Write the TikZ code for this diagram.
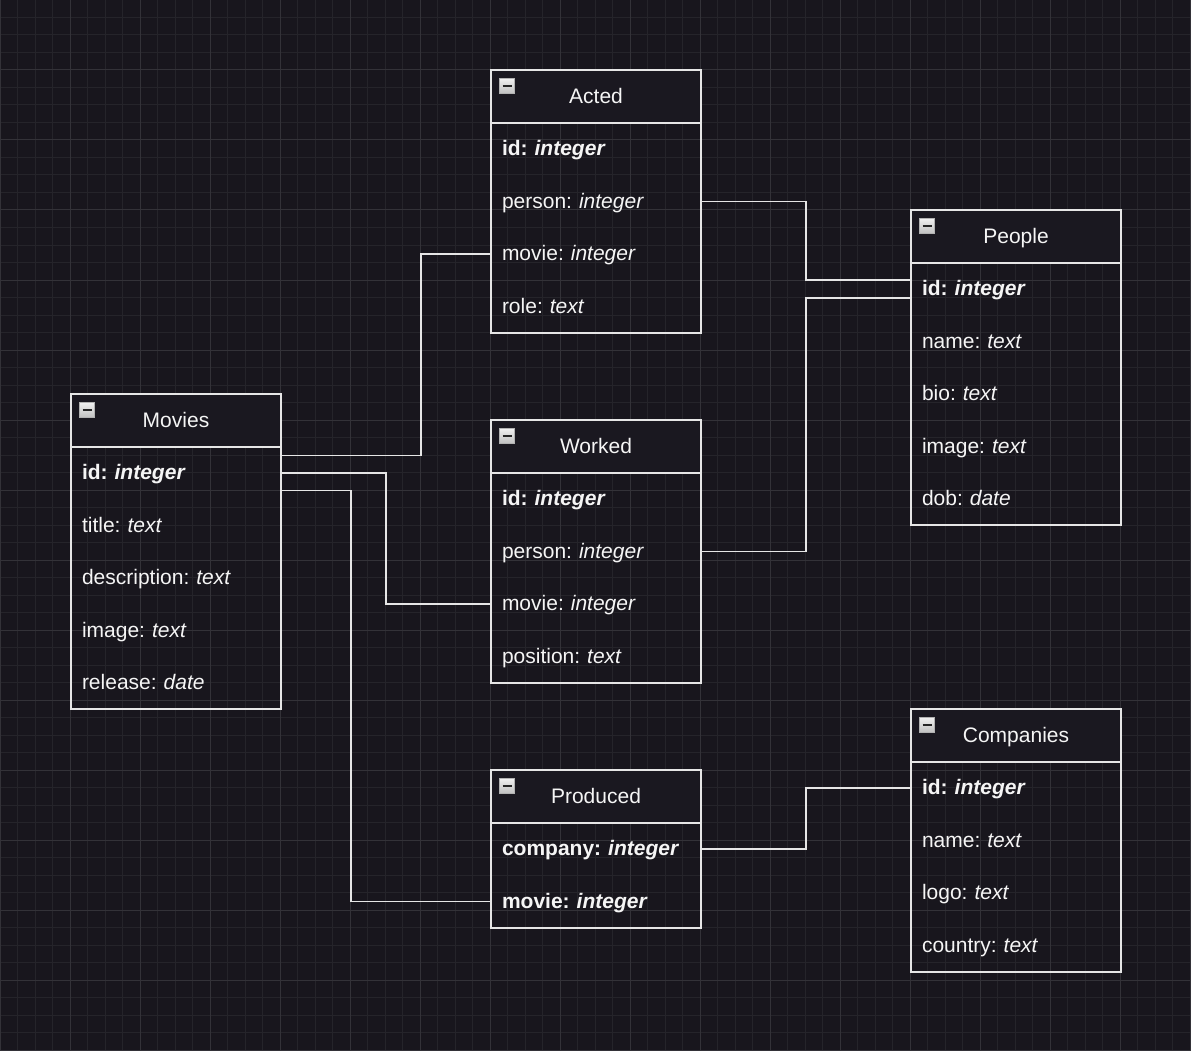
\documentclass[tikz,border=0pt]{standalone}
\usepackage{fontspec}
\setmainfont{Liberation Sans}
\usetikzlibrary{positioning}
\frenchspacing
\definecolor{bgcol}{HTML}{18161D}
\definecolor{gridminor}{HTML}{25242A}
\definecolor{gridmajor}{HTML}{333238}
\definecolor{headfill}{HTML}{1A1820}
\definecolor{linecol}{HTML}{E6E6E6}
\definecolor{txtcol}{HTML}{F5F5F5}
\tikzset{
  tbl/.style={draw=linecol,line width=1.75pt},
  head/.style={tbl,fill=headfill,minimum width=210pt,minimum height=52.5pt,outer sep=0pt,
    text=txtcol,text height=18pt,text depth=4.5pt,font=\fontsize{21}{25}\selectfont},
  field/.style={minimum width=210pt,minimum height=52.5pt,text width=188pt,inner xsep=11pt,
    inner ysep=0pt,align=left,outer sep=0pt,text=txtcol,text height=18pt,text depth=4.5pt,
    font=\fontsize{21}{25}\selectfont},
  toggle/.style={draw=gray!60,line width=0.75pt,minimum size=15pt,inner sep=0pt,
    top color=gray!12,bottom color=gray!50,
    path picture={\draw[line width=2.2pt,black!85]
      ([xshift=3pt]path picture bounding box.west) -- ([xshift=-3pt]path picture bounding box.east);}},
  link/.style={draw=linecol,line width=1.75pt},
}
\begin{document}
\begin{tikzpicture}[x=1pt,y=-1pt]
\useasboundingbox (0,0) rectangle (1191,1051);
\fill[bgcol] (0,0) rectangle (1191,1051);
% grid
\foreach \g in {0,...,68} \draw[gridminor,line width=1pt] (\g*17.5,0) -- (\g*17.5,1051);
\foreach \g in {0,...,60} \draw[gridminor,line width=1pt] (0,\g*17.5) -- (1191,\g*17.5);
\foreach \g in {0,...,17} \draw[gridmajor,line width=1pt] (\g*70,0) -- (\g*70,1051);
\foreach \g in {0,...,15} \draw[gridmajor,line width=1pt] (0,\g*70) -- (1191,\g*70);

% Acted
\node[head](acted) at (596,96.5){Acted};
\node[field](actid)[below=0pt of acted]{\textbf{id: \textit{integer}}};
\node[field](actperson)[below=0pt of actid]{person: \textit{integer}};
\node[field](actmovie)[below=0pt of actperson]{movie: \textit{integer}};
\node[field](actrole)[below=0pt of actmovie]{role: \textit{text}};
\draw[tbl](acted.north west) rectangle (actrole.south east);
\node[toggle](actedbtn) at ([xshift=16pt,yshift=-16pt]acted.north west){};

% People
\node[head](people) at (1016,236.5){People};
\node[field](pplid)[below=0pt of people]{\textbf{id: \textit{integer}}};
\node[field](pplname)[below=0pt of pplid]{name: \textit{text}};
\node[field](pplbio)[below=0pt of pplname]{bio: \textit{text}};
\node[field](pplimage)[below=0pt of pplbio]{image: \textit{text}};
\node[field](ppldob)[below=0pt of pplimage]{dob: \textit{date}};
\draw[tbl](people.north west) rectangle (ppldob.south east);
\node[toggle](peoplebtn) at ([xshift=16pt,yshift=-16pt]people.north west){};

% Movies
\node[head](movies) at (176,420.5){Movies};
\node[field](movid)[below=0pt of movies]{\textbf{id: \textit{integer}}};
\node[field](movtitle)[below=0pt of movid]{title: \textit{text}};
\node[field](movdesc)[below=0pt of movtitle]{description: \textit{text}};
\node[field](movimage)[below=0pt of movdesc]{image: \textit{text}};
\node[field](movrelease)[below=0pt of movimage]{release: \textit{date}};
\draw[tbl](movies.north west) rectangle (movrelease.south east);
\node[toggle](moviesbtn) at ([xshift=16pt,yshift=-16pt]movies.north west){};

% Worked
\node[head](worked) at (596,446.5){Worked};
\node[field](wrkid)[below=0pt of worked]{\textbf{id: \textit{integer}}};
\node[field](wrkperson)[below=0pt of wrkid]{person: \textit{integer}};
\node[field](wrkmovie)[below=0pt of wrkperson]{movie: \textit{integer}};
\node[field](wrkposition)[below=0pt of wrkmovie]{position: \textit{text}};
\draw[tbl](worked.north west) rectangle (wrkposition.south east);
\node[toggle](workedbtn) at ([xshift=16pt,yshift=-16pt]worked.north west){};

% Produced
\node[head](produced) at (596,796.5){Produced};
\node[field](prdcompany)[below=0pt of produced]{\textbf{company: \textit{integer}}};
\node[field](prdmovie)[below=0pt of prdcompany]{\textbf{movie: \textit{integer}}};
\draw[tbl](produced.north west) rectangle (prdmovie.south east);
\node[toggle](producedbtn) at ([xshift=16pt,yshift=-16pt]produced.north west){};

% Companies
\node[head](companies) at (1016,735.5){Companies};
\node[field](cmpid)[below=0pt of companies]{\textbf{id: \textit{integer}}};
\node[field](cmpname)[below=0pt of cmpid]{name: \textit{text}};
\node[field](cmplogo)[below=0pt of cmpname]{logo: \textit{text}};
\node[field](cmpcountry)[below=0pt of cmplogo]{country: \textit{text}};
\draw[tbl](companies.north west) rectangle (cmpcountry.south east);
\node[toggle](companiesbtn) at ([xshift=16pt,yshift=-16pt]companies.north west){};

% relations
\draw[link]([yshift=17.5pt]movid.east) -- ++(140,0) |- (actmovie.west);
\draw[link](movid.east) -- ++(105,0) |- (wrkmovie.west);
\draw[link]([yshift=-17.5pt]movid.east) -- ++(70,0) |- (prdmovie.west);
\draw[link](actperson.east) -- ++(105,0) |- ([yshift=8.75pt]pplid.west);
\draw[link](wrkperson.east) -- ++(105,0) |- ([yshift=-8.75pt]pplid.west);
\draw[link](prdcompany.east) -- ++(105,0) |- (cmpid.west);
\end{tikzpicture}
\end{document}
